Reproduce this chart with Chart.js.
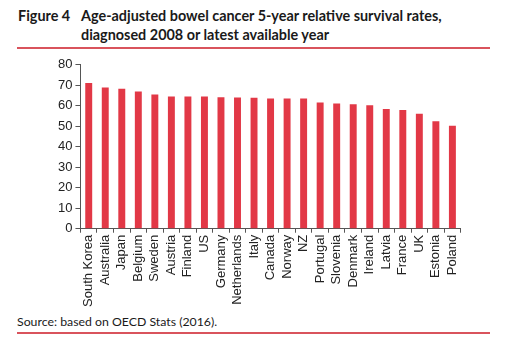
<!DOCTYPE html>
<html>
<head>
<meta charset="utf-8">
<script src="https://cdn.jsdelivr.net/npm/chart.js@4"></script>
<style>
  body { margin: 0; background: #fff; width: 512px; height: 353px; position: relative; overflow: hidden; }
  .hdr { position: absolute; font-family: Lato, sans-serif; font-weight: bold; font-size: 14.4px; color: #1a1a1a; line-height: 19px; }
  .rule { position: absolute; left: 17px; width: 473px; height: 2px; background: #d9535c; }
  #src { position: absolute; left: 17px; top: 314px; font-family: Lato, sans-serif; font-size: 12.3px; color: #1a1a1a; }
  #wrap { position: absolute; left: 55px; top: 54px; width: 415px; height: 255px; }
</style>
</head>
<body>
<div class="hdr" style="left:18px; top:6px;">Figure 4</div>
<div class="hdr" style="left:81px; top:6px;">Age-adjusted bowel cancer 5-year relative survival rates,<br>diagnosed 2008 or latest available year</div>
<div class="rule" style="top:47px;"></div>
<div id="wrap"><canvas id="chart"></canvas></div>
<div id="src">Source: based on OECD Stats (2016).</div>
<div class="rule" style="top:332px;"></div>
<script>
// categories and values
var countries = ['South Korea', 'Australia', 'Japan', 'Belgium', 'Sweden', 'Austria', 'Finland', 'US',
    'Germany', 'Netherlands', 'Italy', 'Canada', 'Norway', 'NZ', 'Portugal', 'Slovenia', 'Denmark',
    'Ireland', 'Latvia', 'France', 'UK', 'Estonia', 'Poland'];
var survival = [71.1, 68.9, 68.3, 67.0, 65.5, 64.5, 64.5, 64.5, 64.2, 64.1, 63.9, 63.6, 63.5, 63.5,
    61.6, 61.1, 60.8, 60.3, 58.4, 58.0, 56.1, 52.5, 50.2];
var yTicks = [0, 10, 20, 30, 40, 50, 60, 70, 80];

var barRed = '#e23846';
var axisGrey = '#555555';

var data = {
    labels: countries,
    datasets: [{
        label: 'Survival rate',
        data: survival,
        backgroundColor: barRed,
        barPercentage: 0.42,
        categoryPercentage: 1.0
    }]
};

var options = {
    responsive: true,
    maintainAspectRatio: false,
    animation: false,
    layout: { padding: { top: 6, right: 0, left: 0, bottom: 0 } },
    plugins: {
        legend: { display: false },
        tooltip: { enabled: false }
    },
    scales: {
        x: {
            grid: { display: true, drawOnChartArea: false, drawTicks: true, tickLength: 4, color: axisGrey, offset: true },
            border: { display: true, color: axisGrey, width: 1 },
            ticks: {
                minRotation: 90, maxRotation: 90, autoSkip: false, padding: 2,
                color: '#222', font: { family: 'Liberation Sans, Arial, sans-serif', size: 13 }
            }
        },
        y: {
            min: 0, max: 80,
            afterBuildTicks: function (axis) {
                axis.ticks = yTicks.map(function (v) { return { value: v }; });
            },
            grid: { display: true, drawOnChartArea: false, drawTicks: true, tickLength: 5, color: axisGrey },
            border: { display: true, color: axisGrey, width: 1 },
            ticks: {
                padding: 3, color: '#222',
                font: { family: 'Liberation Sans, Arial, sans-serif', size: 13 }
            }
        }
    }
};

var ctx = document.getElementById('chart').getContext('2d');
var barChart = new Chart(ctx, { type: 'bar', data: data, options: options });
</script>
</body>
</html>
